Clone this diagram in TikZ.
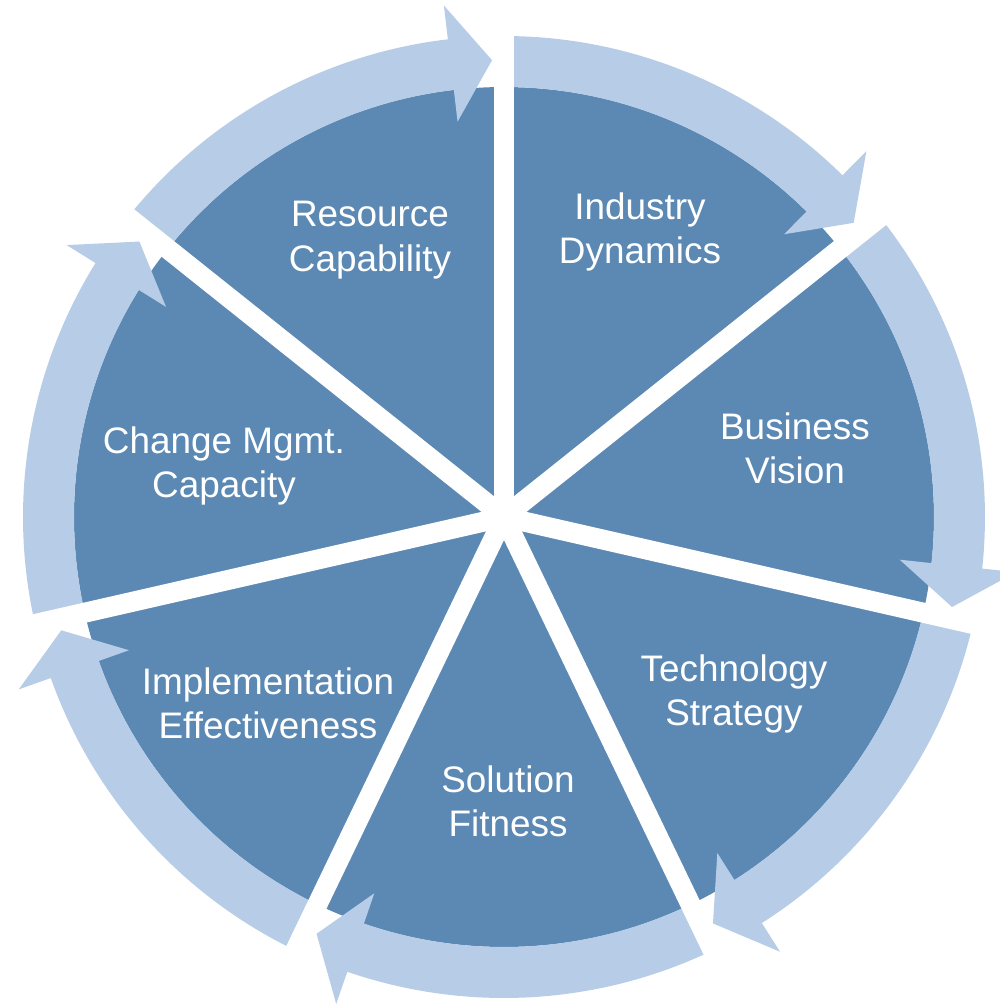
\documentclass[tikz,border=0pt]{standalone}
\usepackage{fontspec}
\setmainfont{Liberation Sans}
\usepackage{tikz}
\def\pieradius{4.30}
\def\bandout{4.81}
\def\bandmid{4.57}
\def\headout{5.15}
\def\headin{3.98}
\definecolor{piefill}{RGB}{91,137,180}
\definecolor{bandfill}{RGB}{183,204,231}
% one curved arrow, starting at the gap angle #1 and running clockwise
\newcommand{\cyclearrow}[1]{%
  \pgfmathsetmacro{\tipangle}{#1-51.4286+1.5}
  \pgfmathsetmacro{\baseangle}{\tipangle+5.2}
  \fill[arrowband] (#1:\pieradius) -- (#1:\bandout)
    arc[start angle=#1, end angle=\baseangle, radius=\bandout]
    -- (\baseangle:\headout) -- (\tipangle:\bandmid) -- (\baseangle:\headin)
    -- (\baseangle:\pieradius)
    arc[start angle=\baseangle, end angle=#1, radius=\pieradius] -- cycle;
}

\begin{document}
\begin{tikzpicture}
	\tikzstyle{seglabel}=[text=white, align=center, inner sep=0pt, font=\fontsize{10.5}{12.6}\selectfont]
	\tikzstyle{arrowband}=[fill=bandfill]
	\tikzstyle{gapline}=[draw=white, line width=2mm]
	
	% Fix the margins
	\useasboundingbox (-5.04,-4.89) rectangle (4.96,5.17);
	
	% Draw the pie
	\coordinate (centre) at (0,0);
	\fill[piefill] (centre) circle (\pieradius);
	
	% Draw the arrows around
	\cyclearrow{90}
	\cyclearrow{38.5714}
	\cyclearrow{-12.8571}
	\cyclearrow{-64.2857}
	\cyclearrow{-115.7143}
	\cyclearrow{-167.1429}
	\cyclearrow{141.4286}
	
	% Draw the gaps between the segments
	\draw[gapline] (centre) -- (90:5.0);
	\draw[gapline] (centre) -- (38.5714:5.0);
	\draw[gapline] (centre) -- (-12.8571:5.0);
	\draw[gapline] (centre) -- (-64.2857:5.0);
	\draw[gapline] (centre) -- (-115.7143:5.0);
	\draw[gapline] (centre) -- (-167.1429:5.0);
	\draw[gapline] (centre) -- (141.4286:5.0);
	
	% Annotate the segments
	\node[seglabel] (industry) at (1.36,2.85) {Industry\\Dynamics};
	\node[seglabel] (vision) at (2.91,0.69) {Business\\Vision};
	\node[seglabel] (technology) at (2.30,-1.77) {Technology\\Strategy};
	\node[seglabel] (solution) at (0.04,-2.84) {Solution\\Fitness};
	\node[seglabel] (implementation) at (-2.36,-1.86) {Implementation\\Effectiveness};
	\node[seglabel] (change) at (-2.80,0.51) {Change Mgmt.\\Capacity};
	\node[seglabel] (resource) at (-1.34,2.77) {Resource\\Capability};
\end{tikzpicture}
\end{document}
